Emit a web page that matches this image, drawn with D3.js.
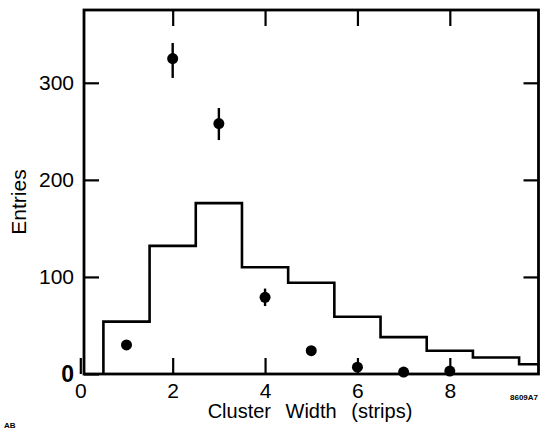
<!DOCTYPE html>
<html><head><meta charset="utf-8">
<script src="https://cdn.jsdelivr.net/npm/d3@7"></script>
<style>body{margin:0;background:#fff}svg{display:block}</style>
</head><body>
<script>
// Data
const binEdges = [0.5,1.5,2.5,3.5,4.5,5.5,6.5,7.5,8.5,9.5,9.92];
const histValues = [54,132,176,110,94,59,38,24,17,10];
const pointX = [1,2,3,4,5,6,7,8];
const pointY = [30,325,258,79,24,7,2,3];
const pointErrLo = [0,305,241,70,0,0,0,0];
const pointErrHi = [0,341,274,88,0,0,0,0];
const xTicks = [0,2,4,6,8];
const yTicks = [0,100,200,300];
const xTitle = "Cluster Width (strips)";
const yTitle = "Entries";

const W=542,H=430;
const svg=d3.select("body").append("svg").attr("width",W).attr("height",H);
const x=d3.scaleLinear().domain([0.08,9.92]).range([84,538.5]);
const y=d3.scaleLinear().domain([0,375]).range([374,10]);

// Histogram
const pts=[];
pts.push([x(binEdges[0]),y(0)]);
histValues.forEach((v,i)=>{pts.push([x(binEdges[i]),y(v)]);pts.push([x(binEdges[i+1]),y(v)]);});
svg.append("path").attr("d",d3.line()(pts)).attr("fill","none").attr("stroke","#000").attr("stroke-width",2.6);

// Axes frame
svg.append("rect").attr("x",x.range()[0]).attr("y",y.range()[1]).attr("width",x.range()[1]-x.range()[0]).attr("height",y.range()[0]-y.range()[1])
 .attr("fill","none").attr("stroke","#000").attr("stroke-width",2.8);

// x ticks (bottom and top, inward)
const xAxisB=d3.axisBottom(x).tickValues(xTicks).tickSize(-16).tickPadding(24).tickFormat(d3.format("d"));
const gx=svg.append("g").attr("transform",`translate(0,${y(0)})`).call(xAxisB);
gx.select(".domain").remove();
gx.selectAll("line").attr("stroke","#000").attr("stroke-width",2.2);
gx.selectAll("text").attr("font-family","'Liberation Sans Narrow','Arial Narrow',sans-serif").attr("font-size",21).attr("fill","#000").attr("dy","0em");
const gxt=svg.append("g").attr("transform",`translate(0,${y.range()[1]})`).call(d3.axisTop(x).tickValues(xTicks.filter(d=>d>0)).tickSize(-16).tickFormat(""));
gxt.select(".domain").remove();
gxt.selectAll("line").attr("stroke","#000").attr("stroke-width",2.2);

// y ticks (left, right inward)
const gy=svg.append("g").attr("transform",`translate(${x.range()[0]},0)`).call(d3.axisLeft(y).tickValues(yTicks).tickSize(-15).tickPadding(10));
gy.select(".domain").remove();
gy.selectAll("line").attr("stroke","#000").attr("stroke-width",2.2);
gy.selectAll("text").attr("font-family","'Liberation Sans',Arial,sans-serif").attr("fill","#000")
 .attr("font-weight",d=>d===0?"bold":"normal").attr("font-size",d=>d===0?23:21);
const gyr=svg.append("g").attr("transform",`translate(${x.range()[1]},0)`).call(d3.axisRight(y).tickValues(yTicks.filter(d=>d>0)).tickSize(-15).tickFormat(""));
gyr.select(".domain").remove();
gyr.selectAll("line").attr("stroke","#000").attr("stroke-width",2.2);

// Error bars
pointX.forEach((px,i)=>{
  if(pointErrHi[i]>0){
    svg.append("line").attr("x1",x(px)).attr("x2",x(px)).attr("y1",y(pointErrLo[i])).attr("y2",y(pointErrHi[i])).attr("stroke","#000").attr("stroke-width",2.4);
  }
});
svg.selectAll("circle.pt").data(pointX).enter().append("circle").attr("class","pt")
 .attr("cx",d=>x(d)).attr("cy",(d,i)=>y(pointY[i])).attr("r",5.5).attr("fill","#000");

// Titles
svg.append("text").attr("x",310).attr("y",418).attr("text-anchor","middle")
 .attr("font-family","'Liberation Sans',Arial,sans-serif").attr("font-size",20).attr("word-spacing",9).text(xTitle);
svg.append("text").attr("transform","translate(26,202) rotate(-90)").attr("text-anchor","middle")
 .attr("font-family","'Liberation Sans',Arial,sans-serif").attr("font-size",21).text(yTitle);

// Stray marks
svg.append("text").attr("x",4).attr("y",428).attr("font-family","'Liberation Sans',Arial,sans-serif").attr("font-size",8).attr("font-weight","bold").text("AB");
svg.append("text").attr("x",510).attr("y",400).attr("font-family","'Liberation Sans Narrow',Arial,sans-serif").attr("font-size",8).attr("font-weight","bold").text("8609A7");
</script>
</body></html>
